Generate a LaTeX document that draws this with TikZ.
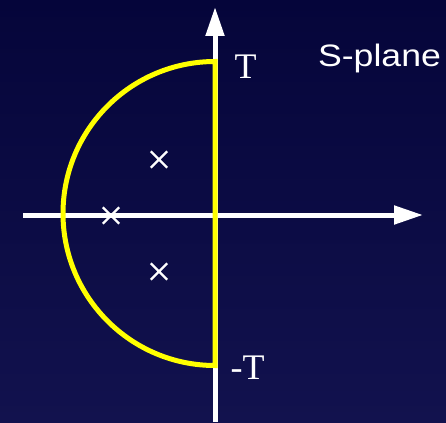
\documentclass[tikz,border=0pt]{standalone}
\usepackage{fontspec}
\setmainfont{Liberation Serif}
\newfontfamily\arialfont{Liberation Sans}
\usetikzlibrary{arrows.meta,shapes.misc}
\definecolor{bgtop}{HTML}{05053A}
\definecolor{bgbot}{HTML}{12124E}
\definecolor{yel}{HTML}{FFFF00}
\tikzset{
  axis/.style={white, line width=5pt, -{Triangle[width=18pt,length=29pt]}},
  pole/.style={cross out, draw=white, line width=2.4pt, minimum size=14pt, inner sep=0pt},
  contour/.style={yel, line width=5pt, line join=miter},
  lbl/.style={white, inner sep=0pt, anchor=base}
}
\begin{document}
\begin{tikzpicture}[x=1pt,y=-1pt]
\useasboundingbox (0,0) rectangle (446,422);
\shade[top color=bgtop, bottom color=bgbot] (0,0) rectangle (446,422);
\coordinate (vb) at (215,422);
\coordinate (vt) at (215,7);
\coordinate (hl) at (23,215);
\coordinate (hr) at (423,215);
\draw[axis] (vb) -- (vt);
\draw[axis] (hl) -- (hr);
\coordinate (ctop) at (215,61.5);
\coordinate (cbot) at (215,365.5);
\draw[contour] (ctop) arc[start angle=90, end angle=270, radius=152pt] -- cycle;
\node[pole] (p1) at (159,159.5) {};
\node[pole] (p2) at (111,215.5) {};
\node[pole] (p3) at (159,271.5) {};
\node[lbl, font=\fontsize{36}{36}\selectfont] (T) at (245.5,79) {T};
\node[lbl, font=\fontsize{36}{36}\selectfont] (mT) at (247.5,379) {-T};
\node[lbl, font=\arialfont\fontsize{31}{31}\selectfont, xscale=1.15, transform shape] (sp) at (379.5,67) {S-plane};
\end{tikzpicture}
\end{document}
